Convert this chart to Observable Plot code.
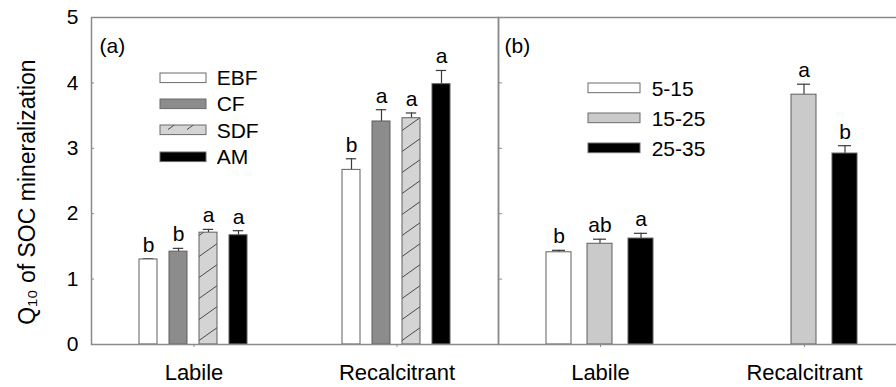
<!DOCTYPE html>
<html>
<head>
<meta charset="utf-8">
<script src="https://cdn.jsdelivr.net/npm/d3@7"></script>
<script src="https://cdn.jsdelivr.net/npm/@observablehq/plot@0.6"></script>
<style>
html, body { margin: 0; padding: 0; background: #fff; overflow: hidden; }
#chart { position: relative; width: 896px; height: 387px; overflow: hidden; background: #fff;
  font-family: "Liberation Sans", Arial, sans-serif; }
#chart > .layer { position: absolute; top: 0; }
#chart > .leg { position: absolute; }
.lega-swatches, .legb-swatches { font-family: "Liberation Sans", Arial, sans-serif; font-size: 21px; color: #000; margin: 0; line-height: 1; }
.lega-swatch, .legb-swatch { padding-bottom: 0; }
.lega-swatch { height: 26.4px; }
.legb-swatch { height: 30px; }
.lega-swatch > svg { margin-right: 10.7px; }
.legb-swatch > svg { margin-right: 11.7px; }
.lega-swatch rect, .legb-swatch rect { stroke: #6a6a6a; stroke-width: 1; }
</style>
</head>
<body>
<div id="chart"></div>
<script>
// ---------- data ----------
const categories = ["Labile", "Recalcitrant"];

// panel (a): forest type
const seriesA = ["EBF", "CF", "SDF", "AM"];
const labileA = [1.30, 1.42, 1.71, 1.67];
const labileAErr = [1.31, 1.47, 1.76, 1.74];
const labileASig = ["b", "b", "a", "a"];
const recalA = [2.67, 3.41, 3.46, 3.98];
const recalAErr = [2.84, 3.59, 3.54, 4.19];
const recalASig = ["b", "a", "a", "a"];

// panel (b): temperature range
const seriesB = ["5-15", "15-25", "25-35"];
const labileB = [1.41, 1.54, 1.62];
const labileBErr = [1.44, 1.61, 1.70];
const labileBSig = ["b", "ab", "a"];
const recalB = [null, 3.82, 2.92];
const recalBErr = [null, 3.98, 3.04];
const recalBSig = [null, "a", "b"];

const yTicks = [0, 1, 2, 3, 4, 5];
const yLabel = "Q\u2081\u2080 of SOC mineralization";
const panelLabels = ["(a)", "(b)"];

// ---------- styles ----------
const FONT = "Liberation Sans, Arial, sans-serif";
const fillsA = ["#ffffff", "#8c8c8c", "url(#hatchSDF)", "#000000"];
const fillsB = ["#ffffff", "#cacaca", "#000000"];
const FRAME = "#8a8a8a";
const H = 387, MT = 17, MB = 43;

function table(series, means, errs, sigs) {
  const out = [];
  categories.forEach((c, ci) => {
    series.forEach((s, si) => {
      const v = means[ci][si];
      if (v == null) return;
      out.push({cat: c, series: s, value: v, err: errs[ci][si], sig: sigs[ci][si]});
    });
  });
  return out;
}
const dataA = table(seriesA, [labileA, recalA], [labileAErr, recalAErr], [labileASig, recalASig]);
const dataB = table(seriesB, [labileB, recalB], [labileBErr, recalBErr], [labileBSig, recalBSig]);

const chart = document.getElementById("chart");

// hatch pattern definition
chart.insertAdjacentHTML("beforeend",
  `<svg width="0" height="0" style="position:absolute;left:0;top:0"><defs>
   <pattern id="hatchSDF" patternUnits="userSpaceOnUse" width="19" height="21">
     <rect width="19" height="21" fill="#d4d4d4"></rect>
     <path d="M0,17.5L19,4" stroke="#4a4a4a" stroke-width="1" fill="none"></path>
   </pattern></defs></svg>`);

function mainPanel(data, series, fills, o) {
  return Plot.plot({
    width: o.width, height: H,
    marginLeft: o.marginLeft, marginRight: 0, marginTop: MT, marginBottom: MB,
    style: {background: "transparent", fontFamily: FONT, color: "#000", overflow: "visible"},
    fx: {domain: categories, padding: 0, axis: null},
    x: {domain: series, paddingInner: o.padIn, paddingOuter: o.padOut, axis: null},
    y: {domain: [0, 5], axis: null},
    color: {domain: series, range: fills},
    marks: [
      Plot.axisFx({anchor: "bottom", tickSize: 3, tickPadding: 17, label: null, stroke: FRAME, fill: "#000", fontSize: 22}),
      Plot.ruleX(data, {fx: "cat", x: "series", y1: "value", y2: "err", stroke: "#3a3a3a", strokeWidth: 1.2}),
      Plot.tickY(data, {fx: "cat", x: "series", y: "err", stroke: "#3a3a3a", strokeWidth: 1.2, insetLeft: o.cap, insetRight: o.cap}),
      Plot.barY(data, {fx: "cat", x: "series", y: "value", fill: "series", stroke: "#5e5e5e", strokeWidth: 1}),
      Plot.text(data, {fx: "cat", x: "series", y: "err", text: "sig", dy: -7, lineAnchor: "bottom", fontSize: 21, fill: "#000"})
    ]
  });
}

function framePanel(o) {
  const marks = [
    Plot.frame({stroke: FRAME, strokeWidth: 1.5}),
    Plot.axisY(yTicks, {tickSize: o.tick, stroke: FRAME, fill: "none", label: null})
  ];
  if (o.text) {
    marks.push(Plot.axisY(yTicks, {tickSize: 0, tickPadding: 13, tickFormat: d3.format("d"), fill: "#000", fontSize: 21, label: null}));
    marks.push(Plot.text([yLabel], {frameAnchor: "left", textAnchor: "middle", rotate: -90, dx: -73, dy: 11, lineAnchor: "top", fontSize: 23, fill: "#000"}));
  }
  marks.push(Plot.text([o.panel], {frameAnchor: "top-left", dx: o.pdx, dy: 21, lineAnchor: "top", textAnchor: "start", fontSize: 21, fill: "#000"}));
  return Plot.plot({
    width: o.width, height: H,
    marginLeft: o.marginLeft, marginRight: 0, marginTop: MT, marginBottom: MB,
    style: {background: "transparent", fontFamily: FONT, color: "#000", overflow: "visible"},
    x: {domain: [0, 1], axis: null},
    y: {domain: [0, 5], axis: null},
    marks
  });
}

function place(node, left, cls) {
  node.classList.add(cls || "layer");
  node.style.left = left + "px";
  chart.appendChild(node);
  return node;
}

const pa = place(mainPanel(dataA, seriesA, fillsA, {width: 498, marginLeft: 91, padIn: 0.39, padOut: 1.53, cap: 3.8}), 0);
const pb = place(mainPanel(dataB, seriesB, fillsB, {width: 418, marginLeft: 10, padIn: 0.39, padOut: 1.18, cap: 6}), 488);
place(framePanel({width: 498, marginLeft: 91, tick: -3, text: true, panel: panelLabels[0], pdx: 8}), 0);
place(framePanel({width: 418, marginLeft: 10, tick: -4, text: false, panel: panelLabels[1], pdx: 6}), 488);

// align hatch pattern with the SDF bars
const hatchRect = [...pa.querySelectorAll("rect")].find(r => (r.getAttribute("fill") || "").includes("hatchSDF"));
if (hatchRect) {
  const pat = document.getElementById("hatchSDF");
  pat.setAttribute("x", hatchRect.getAttribute("x"));
  pat.setAttribute("y", +hatchRect.getAttribute("y") + +hatchRect.getAttribute("height"));
}

// legends
const legA = Plot.legend({color: {type: "ordinal", domain: seriesA, range: fillsA}, columns: 1,
  swatchWidth: 46, swatchHeight: 9.6, className: "lega"});
legA.classList.add("leg"); legA.style.left = "160px"; legA.style.top = "64.3px"; legA.style.width = "150px";
chart.appendChild(legA);
const legB = Plot.legend({color: {type: "ordinal", domain: seriesB, range: fillsB}, columns: 1,
  swatchWidth: 52, swatchHeight: 9.7, className: "legb"});
legB.classList.add("leg"); legB.style.left = "588px"; legB.style.top = "73px"; legB.style.width = "150px";
chart.appendChild(legB);
</script>
</body>
</html>
